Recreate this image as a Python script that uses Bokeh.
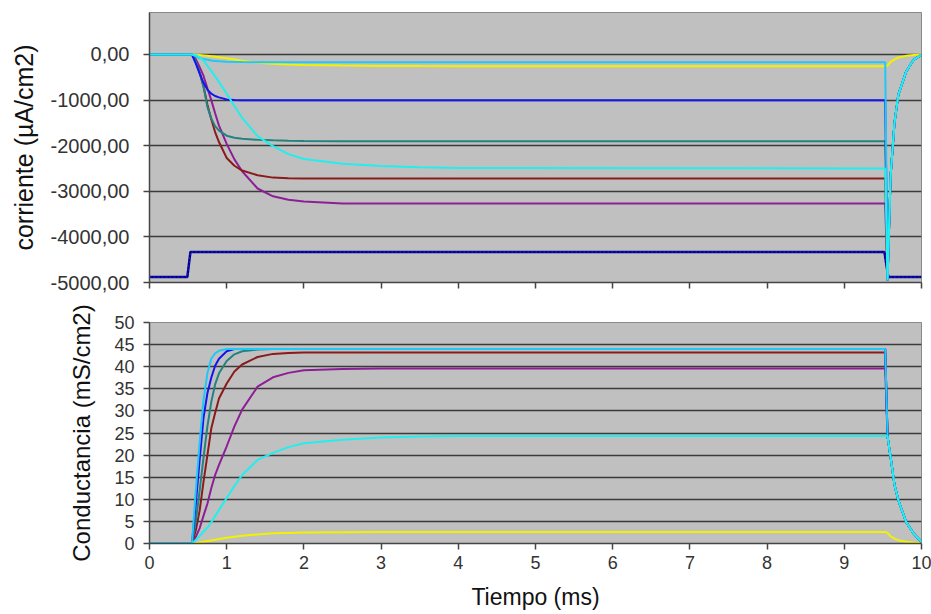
from bokeh.plotting import figure
from bokeh.layouts import column
from bokeh.models import FixedTicker, Range1d
from bokeh.embed import file_html
from bokeh.resources import INLINE

# Sample times (ms) shared by all traces; step on at 0.55 ms, off at ~9.55 ms
T = [0, 0.55, 0.60, 0.65, 0.70, 0.75, 0.80, 0.85, 0.90, 1.0, 1.1, 1.2, 1.4,
     1.6, 1.8, 2.0, 2.5, 3.0, 3.5, 4.0, 9.53, 9.56, 9.60, 9.65, 9.70, 9.80,
     9.90, 10.0]

# Current traces (uA/cm2) during the step; the tail after the step is common
I_TAIL = [-4950, -2650, -1500, -880, -380, -110, -10]
i_blue = [0, 0, -200, -420, -620, -770, -860, -910, -940, -985, -1000, -1005,
          -1005, -1005, -1005, -1005, -1005, -1005, -1005, -1005, -1005] + I_TAIL
i_teal = [0, 0, -150, -400, -700, -1150, -1400, -1570, -1670, -1780, -1825,
          -1850, -1872, -1882, -1890, -1895, -1900, -1900, -1900, -1900,
          -1900] + I_TAIL
i_brown = [0, 0, -150, -400, -700, -1100, -1420, -1700, -1920, -2270, -2440,
           -2545, -2648, -2700, -2715, -2720, -2720, -2720, -2720, -2720,
           -2720] + I_TAIL
i_purple = [0, 0, -100, -277, -470, -740, -1000, -1290, -1560, -1960, -2300,
            -2560, -2939, -3110, -3185, -3225, -3265, -3270, -3270, -3270,
            -3270] + I_TAIL
i_cyan = [0, 0, -15, -60, -130, -250, -360, -480, -600, -860, -1130, -1390,
          -1790, -2010, -2185, -2290, -2395, -2445, -2475, -2490, -2500] + I_TAIL
i_sky = [0, 0, -40, -80, -100, -115, -130, -140, -150, -158, -163, -166,
         -170, -170, -170, -170, -170, -170, -170, -170, -170] + I_TAIL
i_yellow = [0, 0, -5, -12, -20, -28, -38, -48, -58, -83, -108, -135, -180,
            -205, -220, -230, -242, -250, -253, -255, -255, -245, -160, -110,
            -65, -30, -12, 0]

# Command step trace
t_cmd = [0, 0.49, 0.53, 9.52, 9.57, 10.0]
i_cmd = [-4880, -4880, -4330, -4330, -4880, -4880]

# Conductance traces (mS/cm2)
G_TAIL = [24.3, 19.5, 13.3, 9.8, 4.9, 2.2, 0.4]
g_sky = [0, 0, 12, 23, 32.5, 38.5, 41.8, 43.0, 43.6, 44.0, 44.0, 44.0, 44.0,
         44.0, 44.0, 44.0, 44.0, 44.0, 44.0, 44.0, 44.0] + G_TAIL
g_blue = [0, 0, 9, 19, 28.5, 34, 37.5, 40.2, 41.8, 43.5, 44.0, 44.0, 44.0,
          44.0, 44.0, 44.0, 44.0, 44.0, 44.0, 44.0, 44.0] + G_TAIL
g_teal = [0, 0, 5, 12, 19.5, 26.5, 32, 36, 38.5, 41.3, 42.8, 43.5, 43.9,
          44.0, 44.0, 44.0, 44.0, 44.0, 44.0, 44.0, 44.0] + G_TAIL
g_brown = [0, 0, 3, 7.5, 14, 20, 26, 29.5, 32.8, 36.2, 38.9, 40.5, 42.2,
           42.9, 43.1, 43.2, 43.2, 43.2, 43.2, 43.2, 43.2] + G_TAIL
g_purple = [0, 0, 1.5, 3.5, 6.3, 9, 12.5, 15.5, 17.8, 22, 26.5, 30.3, 35.5,
            37.6, 38.6, 39.2, 39.5, 39.6, 39.6, 39.6, 39.6] + G_TAIL
g_cyan = [0, 0, 0.8, 1.7, 2.7, 3.6, 4.8, 6.2, 7.6, 10.3, 13, 15.5, 18.9,
          20.5, 21.8, 22.7, 23.5, 24.0, 24.2, 24.3, 24.3] + G_TAIL
g_yellow = [0, 0, 0.1, 0.25, 0.4, 0.55, 0.7, 0.85, 1.0, 1.3, 1.55, 1.75, 2.05,
            2.3, 2.4, 2.5, 2.55, 2.6, 2.6, 2.6, 2.6, 2.4, 1.6, 1.1, 0.75, 0.4,
            0.2, 0.05]

# Axis ticks
x_ticks = list(range(0, 11))
cur_ticks = [0, -1000, -2000, -3000, -4000, -5000]
cur_labels = ["0,00", "-1000,00", "-2000,00", "-3000,00", "-4000,00", "-5000,00"]
g_ticks = list(range(0, 55, 5))

COLORS = {
    "navy": "#000080", "yellow": "#F2F200", "purple": "#8E1E96",
    "brown": "#8B1A1A", "teal": "#23837F", "blue": "#1414F0",
    "sky": "#1EC8F8", "cyan": "#22EEEE",
}
FONT = "Liberation Sans"


def style(p, label_size):
    p.background_fill_color = "#C0C0C0"
    p.border_fill_color = "white"
    p.outline_line_color = "#8a8a8a"
    p.xgrid.grid_line_color = None
    p.ygrid.grid_line_color = "#3a3a3a"
    p.ygrid.grid_line_width = 1.5
    for ax in (p.xaxis[0], p.yaxis[0]):
        ax.axis_line_color = "#454545"
        ax.axis_line_width = 1.5
        ax.major_tick_line_color = "#454545"
        ax.major_tick_line_width = 1.5
        ax.major_tick_out = 6
        ax.major_tick_in = 0
        ax.minor_tick_line_color = None
        ax.major_label_text_font = FONT
        ax.major_label_text_font_size = label_size
        ax.major_label_text_color = "#333333"
        ax.axis_label_text_font = FONT
        ax.axis_label_text_font_style = "normal"
        ax.axis_label_text_color = "#111111"


# Current panel
p1 = figure(width=931, height=300, x_range=Range1d(0, 10),
            y_range=Range1d(-5000, 921), output_backend="svg",
            toolbar_location=None, min_border_left=149, min_border_right=10,
            min_border_top=12, min_border_bottom=18)
style(p1, "20px")
p1.xaxis.ticker = FixedTicker(ticks=x_ticks)
p1.xaxis.major_label_overrides = {t: "" for t in x_ticks}
p1.xaxis.major_label_standoff = 0
p1.yaxis.ticker = FixedTicker(ticks=cur_ticks)
p1.yaxis.major_label_overrides = dict(zip(cur_ticks, cur_labels))
p1.yaxis.major_label_standoff = 14
p1.yaxis.axis_label = "corriente (µA/cm2)"
p1.yaxis.axis_label_text_font_size = "25px"
p1.yaxis.axis_label_standoff = 10

p1.line(t_cmd, i_cmd, line_color=COLORS["navy"], line_width=2.5)
p1.line(t_cmd, i_cmd, line_color=COLORS["blue"], line_width=1.2, line_dash="2 2")
for name, ys in [("yellow", i_yellow), ("purple", i_purple), ("brown", i_brown),
                 ("teal", i_teal), ("blue", i_blue), ("sky", i_sky),
                 ("cyan", i_cyan)]:
    p1.line(T, ys, line_color=COLORS[name], line_width=2)

# Conductance panel
p2 = figure(width=931, height=314, x_range=Range1d(0, 10),
            y_range=Range1d(0, 50), output_backend="svg",
            toolbar_location=None, min_border_left=149, min_border_right=10,
            min_border_top=22, min_border_bottom=71)
style(p2, "18px")
p2.xaxis.ticker = FixedTicker(ticks=x_ticks)
p2.xaxis.major_label_standoff = 6
p2.xaxis.axis_label = "Tiempo (ms)"
p2.xaxis.axis_label_text_font_size = "23px"
p2.xaxis.axis_label_standoff = 12
p2.yaxis.ticker = FixedTicker(ticks=g_ticks)
p2.yaxis.major_label_standoff = 9
p2.yaxis.axis_label = "Conductancia (mS/cm2)"
p2.yaxis.axis_label_text_font_size = "24px"
p2.yaxis.axis_label_standoff = 16

for name, ys in [("yellow", g_yellow), ("purple", g_purple), ("brown", g_brown),
                 ("teal", g_teal), ("blue", g_blue), ("sky", g_sky),
                 ("cyan", g_cyan)]:
    p2.line(T, ys, line_color=COLORS[name], line_width=2)

layout = column(p1, p2, spacing=0)
open("out.html", "w").write(file_html(layout, INLINE))
